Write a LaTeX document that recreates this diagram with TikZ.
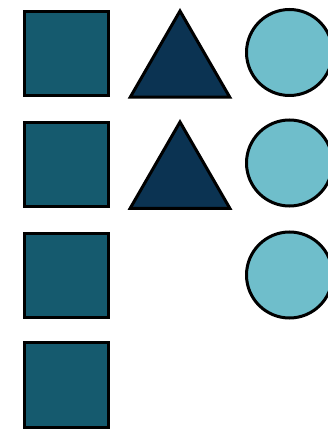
\documentclass[tikz,border=0pt]{standalone}
\usetikzlibrary{shapes.geometric}

\definecolor{tealbox}{HTML}{155A6E}
\definecolor{navytri}{HTML}{0B3352}
\definecolor{skydot}{HTML}{6FBECB}

\begin{document}
\begin{tikzpicture}[
    x=1pt, y=-1pt,
    shp/.style={draw=black, line width=3pt, inner sep=0pt, outer sep=0pt},
    sq/.style={shp, rectangle, fill=tealbox, minimum size=84.5pt},
    tri/.style={shp, regular polygon, regular polygon sides=3, fill=navytri, minimum size=115pt},
    dot/.style={shp, circle, fill=skydot, minimum size=86pt},
]
\useasboundingbox (0,0) rectangle (327,430);

% --- Square column ---
\foreach \i/\y in {1/53.5, 2/164.5, 3/275.5, 4/385}{
    \node[sq] (sq\i) at (66.5,\y) {};
}

% --- Triangle column ---
\node[tri] (tri1) at (180,68.5)  {};
\node[tri] (tri2) at (180,179.5) {};

% --- Circle column ---
\node[dot] (dot1) at (289.5,52.5) {};
\node[dot] (dot2) at (289.5,163)  {};
\node[dot] (dot3) at (289.5,275)  {};

\end{tikzpicture}
\end{document}
